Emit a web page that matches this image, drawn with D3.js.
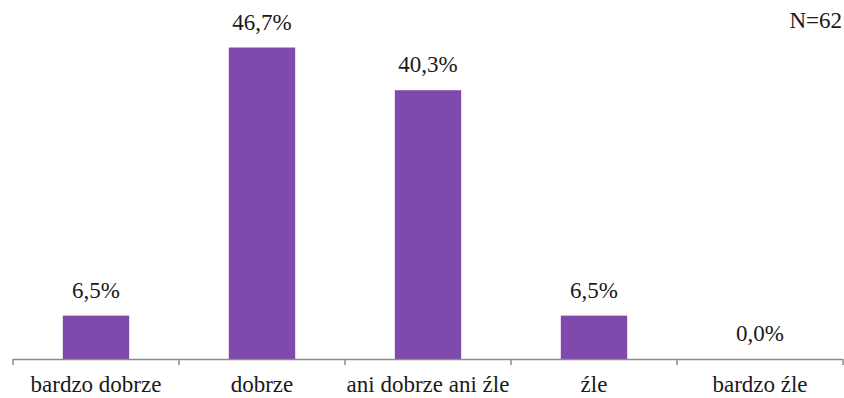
<!DOCTYPE html>
<html>
<head>
<meta charset="utf-8">
<script src="https://cdn.jsdelivr.net/npm/d3@7"></script>
<style>
  html, body { margin: 0; padding: 0; background: #fff; }
</style>
</head>
<body>
<svg id="chart" width="844" height="398"></svg>
<script>
// Ratings and their share of answers (%)
const categories = ["bardzo dobrze", "dobrze", "ani dobrze ani źle", "źle", "bardzo źle"];
const values = [6.5, 46.7, 40.3, 6.5, 0.0];
const sampleNote = "N=62";

const svg = d3.select("#chart");
const left = 13, right = 843, baseY = 359;
const ink = "#1a1a1a";
const serif = '"Liberation Serif"';
const fontSize = 23;

const x = d3.scaleBand()
  .domain(categories)
  .range([left, right])
  .paddingInner(0.6)
  .paddingOuter(0.3);

const y = d3.scaleLinear().domain([0, 50]).range([baseY, 25.5]);

const fmt = v => d3.format(".1f")(v).replace(".", ",") + "%";

// Bars
svg.append("g").selectAll("rect")
  .data(values)
  .join("rect")
  .attr("x", (d, i) => x(categories[i]))
  .attr("y", d => y(d))
  .attr("width", x.bandwidth())
  .attr("height", d => baseY - y(d))
  .attr("fill", "#804AAD");

// Value labels
svg.append("g").selectAll("text")
  .data(values)
  .join("text")
  .attr("x", (d, i) => x(categories[i]) + x.bandwidth() / 2)
  .attr("y", d => y(d) - 18)
  .attr("text-anchor", "middle")
  .attr("font-size", fontSize)
  .attr("fill", ink)
  .style("font-family", serif)
  .text(d => fmt(d));

// Category axis with ticks at band boundaries
const edges = d3.range(categories.length + 1).map(i => left + i * (right - left) / categories.length);
const axis = svg.append("g");
axis.append("line")
  .attr("x1", left).attr("x2", right)
  .attr("y1", baseY + 0.5).attr("y2", baseY + 0.5)
  .attr("stroke", "#8c8c8c").attr("stroke-width", 1.5);
axis.selectAll("line.tick")
  .data(edges)
  .join("line")
  .attr("class", "tick")
  .attr("x1", d => d).attr("x2", d => d)
  .attr("y1", baseY).attr("y2", baseY + 6)
  .attr("stroke", "#8c8c8c").attr("stroke-width", 1.5);
axis.selectAll("text")
  .data(categories)
  .join("text")
  .attr("x", d => x(d) + x.bandwidth() / 2)
  .attr("y", 392)
  .attr("text-anchor", "middle")
  .attr("font-size", fontSize)
  .attr("fill", ink)
  .style("font-family", serif)
  .text(d => d);

// Sample size note
svg.append("text")
  .attr("x", 842)
  .attr("y", 28)
  .attr("text-anchor", "end")
  .attr("font-size", fontSize)
  .attr("fill", ink)
  .style("font-family", serif)
  .text(sampleNote);
</script>
</body>
</html>
